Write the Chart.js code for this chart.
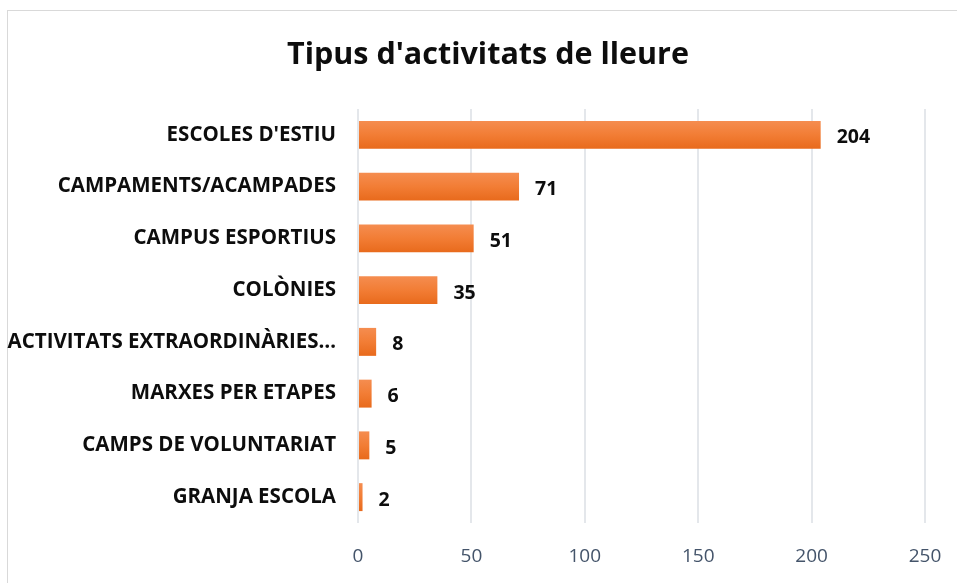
<!DOCTYPE html>
<html>
<head>
<meta charset="utf-8">
<script src="https://cdn.jsdelivr.net/npm/chart.js@4"></script>
<style>
  html, body { margin: 0; padding: 0; background: #fff; overflow: hidden; }
  #wrap { position: relative; width: 957px; height: 583px; }
  #frame {
    position: absolute; left: 7px; top: 10px; width: 970px; height: 600px;
    border: 1px solid #d9d9d9; box-sizing: border-box;
  }
  #chart { position: absolute; left: 0; top: 0; }
</style>
</head>
<body>
<div id="wrap">
  <div id="frame"></div>
  <canvas id="chart" width="957" height="583"></canvas>
</div>
<script>
// Tipus d'activitats de lleure – horizontal bar chart
// ---------------------------------------------------

const chartTitle = "Tipus d'activitats de lleure";

const categories = [
  'ESCOLES D\'ESTIU',
  'CAMPAMENTS/ACAMPADES',
  'CAMPUS ESPORTIUS',
  'COLÒNIES',
  'ACTIVITATS EXTRAORDINÀRIES…',
  'MARXES PER ETAPES',
  'CAMPS DE VOLUNTARIAT',
  'GRANJA ESCOLA',
];

const activityCounts = [204, 71, 51, 35, 8, 6, 5, 2];

const xTickValues = [0, 50, 100, 150, 200, 250];

const FONT = '"Open Sans", Lato, sans-serif';

// vertical orange gradient per bar, like the office-style fill
function barGradient(ctx) {
  const chart = ctx.chart;
  const yScale = chart.scales.y;
  const el = ctx.element;
  if (!yScale || !chart.chartArea || ctx.dataIndex === undefined) return '#ef7a32';
  const yc = yScale.getPixelForValue(ctx.dataIndex);
  const h = el && el.height ? el.height : 28;
  const g = chart.ctx.createLinearGradient(0, yc - h / 2, 0, yc + h / 2);
  g.addColorStop(0, '#f58d50');
  g.addColorStop(0.5, '#f27d35');
  g.addColorStop(1, '#e86a1c');
  return g;
}

// title centred over the whole frame (not just the layout box)
const frameTitle = {
  id: 'frameTitle',
  afterDraw(chart) {
    const c = chart.ctx;
    c.save();
    c.font = 'bold 30.5px ' + FONT;
    c.fillStyle = '#0d0d0d';
    c.textAlign = 'center';
    c.textBaseline = 'middle';
    c.fillText(chartTitle, 488, 55);
    c.restore();
  },
};

// value labels at the end of each bar
const valueLabels = {
  id: 'valueLabels',
  afterDatasetsDraw(chart) {
    const c = chart.ctx;
    const meta = chart.getDatasetMeta(0);
    c.save();
    c.font = 'bold 19.5px ' + FONT;
    c.fillStyle = '#0d0d0d';
    c.textAlign = 'left';
    c.textBaseline = 'middle';
    meta.data.forEach((bar, i) => {
      c.fillText(String(activityCounts[i]), bar.x + 16, bar.y + 3);
    });
    c.restore();
  },
};

new Chart(document.getElementById('chart'), {
  type: 'bar',
  data: {
    labels: categories,
    datasets: [{
      data: activityCounts,
      backgroundColor: barGradient,
      borderWidth: 0,
      categoryPercentage: 0.54,
      barPercentage: 1.0,
    }],
  },
  options: {
    indexAxis: 'y',
    responsive: false,
    animation: false,
    layout: { padding: { left: 0, right: 32, top: 109, bottom: 0 } },
    plugins: {
      legend: { display: false },
      tooltip: { enabled: false },
      title: { display: false },
    },
    scales: {
      x: {
        min: 0,
        max: 250,
        afterBuildTicks: (scale) => { scale.ticks = xTickValues.map((v) => ({ value: v })); },
        grid: { color: '#e4e7eb', lineWidth: 2, drawTicks: false },
        border: { display: false },
        ticks: {
          color: '#44546a',
          padding: 22,
          font: { family: FONT, size: 19 },
        },
        afterFit: (scale) => {
          scale.height = 60;
          scale.paddingLeft = 0;
          scale.paddingRight = 0;
        },
      },
      y: {
        grid: { display: false },
        border: { display: false },
        ticks: {
          color: '#0d0d0d',
          padding: 14,
          font: { family: FONT, size: 20.5, weight: 'bold' },
        },
        afterFit: (scale) => { scale.width = 358; },
      },
    },
  },
  plugins: [valueLabels, frameTitle],
});
</script>
</body>
</html>
